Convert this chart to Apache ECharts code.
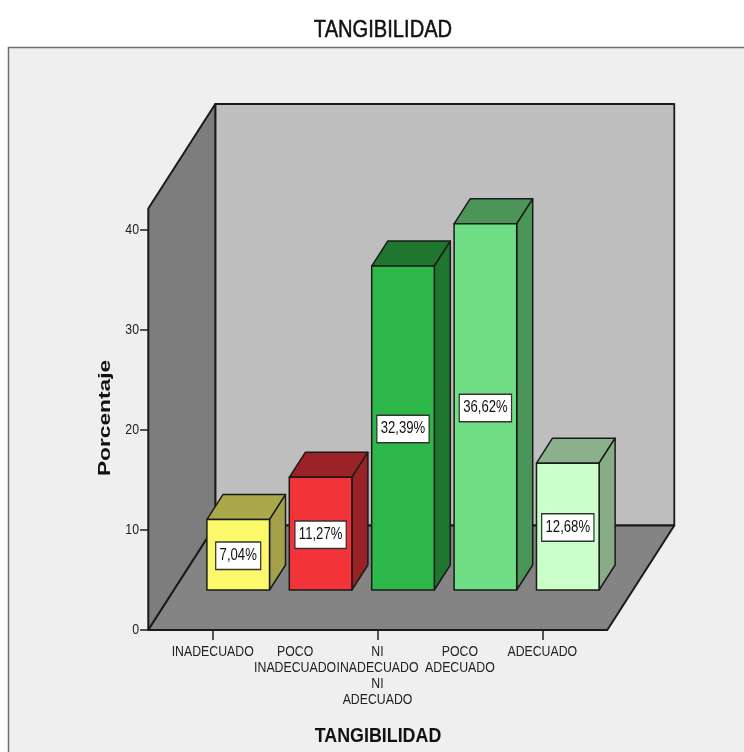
<!DOCTYPE html>
<html>
<head>
<meta charset="utf-8">
<title>TANGIBILIDAD</title>
<script src="https://cdn.jsdelivr.net/npm/echarts@6/dist/echarts.min.js"></script>
<style>
  html, body { margin: 0; padding: 0; background: #fff; }
  #chart { width: 744px; height: 752px; }
</style>
</head>
<body>
<div id="chart"></div>
<script>
// Survey results
const chartTitle = 'TANGIBILIDAD';
const valueAxisName = 'Porcentaje';
const categories = ['INADECUADO', 'POCO\nINADECUADO', 'NI\nINADECUADO\nNI\nADECUADO', 'POCO\nADECUADO', 'ADECUADO'];
const percentages = [7.04, 11.27, 32.39, 36.62, 12.68];
const valueTicks = [0, 10, 20, 30, 40];

// Face colours of each bar: front, top, side
const frontColors = ['#FBF86C', '#F23339', '#2FB84A', '#70DE84', '#CBFFC9'];
const topColors = ['#A9A84B', '#9B2226', '#1F772F', '#4B9559', '#8AB08C'];
const sideColors = ['#A3A24A', '#992226', '#1F772F', '#4B9559', '#88AC88'];

// Oblique projection of the chart box
const sansFont = '"Liberation Sans", Arial, sans-serif';
const narrowScale = 0.82; // horizontal squeeze that gives the condensed lettering
const boxDepth = { dx: 67, dy: -104.5 };
const wallTopValue = 42.15;
const barShift = { dx: 25.5, dy: -40 };
const barDepth = { dx: 16, dy: -25 };
const barBandRatio = 0.76;
const edgeColor = '#1a1a1a';

function poly(points, fill, lineWidth) {
  return {
    type: 'polygon',
    shape: { points: points },
    style: { fill: fill, stroke: edgeColor, lineWidth: lineWidth, lineJoin: 'round' }
  };
}

// Condensed text element anchored at (x, y)
function narrowText(x, y, text, style) {
  return {
    type: 'text',
    x: x,
    y: y,
    scaleX: narrowScale,
    z2: 10,
    style: Object.assign({ x: 0, y: 0, text: text, fill: '#222', font: '15px ' + sansFont }, style)
  };
}

// Left wall, back wall and floor, placed from the axis scales
function renderBox(params, api) {
  const band = api.size([1, 0])[0];
  const first = api.coord([0, 0]);
  const last = api.coord([categories.length - 1, 0]);
  const left = first[0] - band / 2 - 23.2;
  const right = last[0] + band / 2 + 23.8;
  const y0 = first[1];
  const yTop = api.coord([0, wallTopValue])[1];
  const d = boxDepth;
  return {
    type: 'group',
    children: [
      poly([[left + d.dx, yTop + d.dy], [right + d.dx, yTop + d.dy], [right + d.dx, y0 + d.dy], [left + d.dx, y0 + d.dy]], '#BEBEBE', 1.8),
      poly([[left, y0], [left, yTop], [left + d.dx, yTop + d.dy], [left + d.dx, y0 + d.dy]], '#7D7D7D', 2),
      poly([[left, y0], [right, y0], [right + d.dx, y0 + d.dy], [left + d.dx, y0 + d.dy]], '#848484', 2)
    ]
  };
}

// One oblique bar with its value box
function renderBar(params, api) {
  const i = api.value(0);
  const v = api.value(1);
  const base = api.coord([i, 0]);
  const top = api.coord([i, v]);
  const w = api.size([1, 0])[0] * barBandRatio;
  const cx = base[0] + barShift.dx;
  const x0 = cx - w / 2;
  const x1 = cx + w / 2;
  const yb = base[1] + barShift.dy;
  const yt = top[1] + barShift.dy;
  const d = barDepth;
  return {
    type: 'group',
    children: [
      poly([[x0, yt], [x1, yt], [x1 + d.dx, yt + d.dy], [x0 + d.dx, yt + d.dy]], topColors[i], 1.5),
      poly([[x1, yb], [x1, yt], [x1 + d.dx, yt + d.dy], [x1 + d.dx, yb + d.dy]], sideColors[i], 1.5),
      poly([[x0, yb], [x1, yb], [x1, yt], [x0, yt]], frontColors[i], 1.5),
      narrowText(cx, (yb + yt) / 2 + 1, v.toFixed(2).replace('.', ',') + '%', {
        font: '16px ' + sansFont,
        fill: '#111',
        align: 'center',
        verticalAlign: 'middle',
        backgroundColor: '#fff',
        borderColor: '#333',
        borderWidth: 1.5,
        padding: [5, 4, 5, 4]
      })
    ]
  };
}

// Condensed category names under the floor's front edge
function renderCategoryLabel(params, api) {
  const i = api.value(0);
  const p = api.coord([i, 0]);
  return narrowText(p[0], p[1] + 14, categories[i], {
    align: 'center',
    verticalAlign: 'top',
    lineHeight: 16
  });
}

// Condensed value-axis numbers left of the ticks
function renderValueLabel(params, api) {
  const p = api.coord([0, api.value(1)]);
  const axisX = api.coord([0, 0])[0] - api.size([1, 0])[0] / 2 - 23.5;
  return narrowText(axisX - 9, p[1], String(api.value(1)), {
    align: 'right',
    verticalAlign: 'middle'
  });
}

const chart = echarts.init(document.getElementById('chart'), null, { renderer: 'canvas' });
chart.setOption({
  animation: false,
  backgroundColor: '#ffffff',
  graphic: [
    {
      type: 'rect',
      z: -10,
      shape: { x: 8.5, y: 47.5, width: 745, height: 715 },
      style: { fill: '#EFEFEF', stroke: '#6E6E6E', lineWidth: 1.5 }
    },
    {
      type: 'text',
      x: 383,
      y: 30.5,
      scaleX: 0.875,
      style: { text: chartTitle, font: '23px ' + sansFont, fill: '#111', stroke: '#111', lineWidth: 0.5, align: 'center', verticalAlign: 'middle' }
    },
    {
      type: 'text',
      x: 378,
      y: 736,
      scaleX: 0.85,
      style: { text: chartTitle, font: 'bold 21px ' + sansFont, fill: '#111', align: 'center', verticalAlign: 'middle' }
    },
    {
      type: 'text',
      x: 105.5,
      y: 418,
      rotation: Math.PI / 2,
      scaleX: 1.42,
      style: { text: valueAxisName, font: 'bold 16px ' + sansFont, fill: '#111', align: 'center', verticalAlign: 'middle' }
    }
  ],
  grid: { left: 171.5, top: 230, width: 412, height: 400, outerBoundsMode: 'none' },
  xAxis: {
    type: 'category',
    data: categories,
    axisLine: { show: false },
    axisTick: { show: true, alignWithLabel: true, length: 10, lineStyle: { color: '#222', width: 1.5 } },
    axisLabel: { show: false }
  },
  yAxis: {
    type: 'value',
    min: valueTicks[0],
    max: valueTicks[valueTicks.length - 1],
    interval: valueTicks[1] - valueTicks[0],
    offset: 23.5,
    splitLine: { show: false },
    axisLine: { show: false },
    axisTick: { show: true, length: 8, lineStyle: { color: '#222', width: 1.5 } },
    axisLabel: { show: false }
  },
  series: [
    {
      type: 'custom',
      z: 1,
      silent: true,
      clip: false,
      renderItem: renderBox,
      encode: { x: 0, y: 1 },
      data: [[0, 0]]
    },
    {
      type: 'custom',
      z: 2,
      silent: true,
      clip: false,
      renderItem: renderBar,
      encode: { x: 0, y: 1 },
      data: percentages.map((v, i) => [i, v])
    },
    {
      type: 'custom',
      z: 3,
      silent: true,
      clip: false,
      renderItem: renderCategoryLabel,
      encode: { x: 0, y: 1 },
      data: categories.map((c, i) => [i, 0])
    },
    {
      type: 'custom',
      z: 3,
      silent: true,
      clip: false,
      renderItem: renderValueLabel,
      encode: { x: 0, y: 1 },
      data: valueTicks.map((t) => [0, t])
    }
  ]
});
</script>
</body>
</html>
